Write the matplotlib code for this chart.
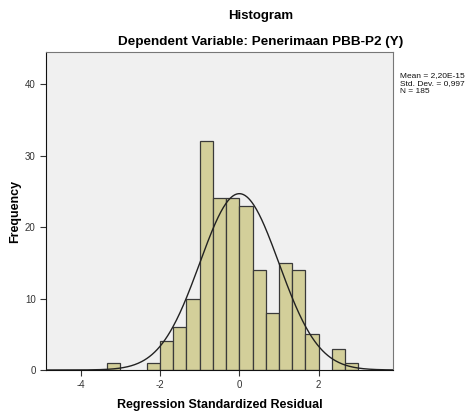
import numpy as np
import matplotlib.pyplot as plt

plt.rcParams['font.family'] = ['Liberation Sans', 'DejaVu Sans']
plt.rcParams['axes.unicode_minus'] = False

# histogram bins (width 1/3, left edge in thirds) and counts
bin_left = [-10, -7, -6, -5, -4, -3, -2, -1, 0, 1, 2, 3, 4, 5, 7, 8]
counts = [1, 1, 4, 6, 10, 32, 24, 24, 23, 14, 8, 15, 14, 5, 3, 1]
bin_width = 1 / 3
mean = 2.20e-15
std = 0.997
n = 185
x_ticks = [-4, -2, 0, 2]
y_ticks = [0, 10, 20, 30, 40]

fig = plt.figure(figsize=(4.72, 4.11), dpi=100)
ax = fig.add_axes([0.0975, 0.0998, 0.735, 0.7737])
ax.set_facecolor('#f0f0f0')

lefts = np.array(bin_left) * bin_width
ax.bar(lefts, counts, width=bin_width, align='edge', color='#d3cf9a',
       edgecolor='#3a3a3a', linewidth=0.9, zorder=2)

xs = np.linspace(-4.87, 3.87, 400)
ys = n * bin_width * np.exp(-0.5 * ((xs - mean) / std) ** 2) / (std * np.sqrt(2 * np.pi))
ax.plot(xs, ys, color='#222222', linewidth=1.0, zorder=3)

ax.set_xlim(-4.87, 3.87)
ax.set_ylim(0, 44.5)
ax.set_xticks(x_ticks)
ax.set_yticks(y_ticks)
ax.tick_params(labelsize=7, colors='#333333', length=4, width=0.8)
for s in ['left', 'bottom']:
    ax.spines[s].set_color('#111111')
for s in ['top', 'right']:
    ax.spines[s].set_color('#777777')

ax.set_xlabel('Regression Standardized Residual', fontsize=9, fontweight='bold', labelpad=6)
ax.set_ylabel('Frequency', fontsize=9, fontweight='bold', labelpad=3)

fig.text(0.553, 0.96, 'Histogram', ha='center', va='center', fontsize=9.5, fontweight='bold')
fig.text(0.553, 0.898, 'Dependent Variable: Penerimaan PBB-P2 (Y)', ha='center', va='center',
         fontsize=9.7, fontweight='bold')
fig.text(0.848, 0.825, 'Mean = 2,20E-15\nStd. Dev. = 0,997\nN = 185', ha='left', va='top',
         fontsize=6, linespacing=1.2, color='#111111')

plt.savefig('out.png')
